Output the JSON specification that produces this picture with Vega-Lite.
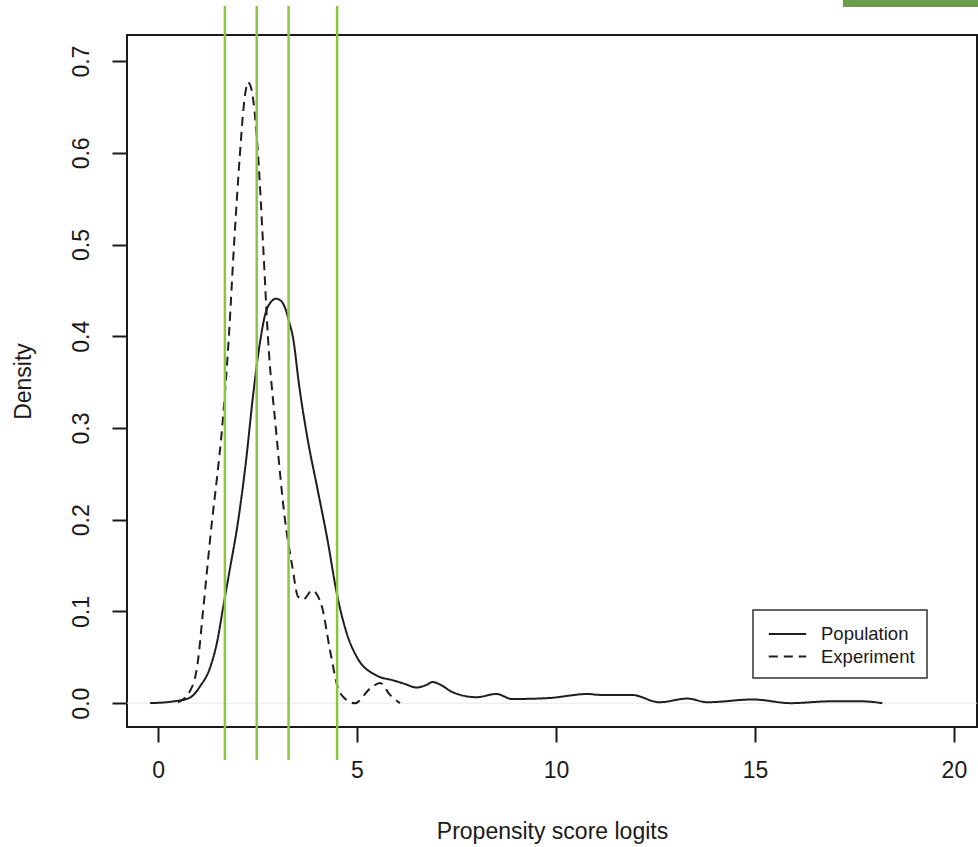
{
  "$schema": "https://vega.github.io/schema/vega-lite/v6.json",
  "width": 850,
  "height": 692,
  "autosize": "none",
  "padding": {"left": 127, "top": 35, "right": 1, "bottom": 120},
  "background": "white",
  "config": {
    "font": "Liberation Sans",
    "view": {"stroke": "#1a1a1a", "strokeWidth": 2},
    "axis": {"grid": false, "labelFont": "Liberation Sans", "titleFont": "Liberation Sans", "labelColor": "#1a1a1a", "titleColor": "#1a1a1a", "titleFontWeight": "normal", "labelFontSize": 23, "titleFontSize": 23, "tickColor": "#1a1a1a", "tickWidth": 2, "tickSize": 15, "domain": false}
  },
  "datasets": {
    "curves": [
      {"series": "Population", "x": -0.2, "y": 0.0},
      {"series": "Population", "x": 0.4, "y": 0.002},
      {"series": "Population", "x": 0.8, "y": 0.006},
      {"series": "Population", "x": 1.05, "y": 0.018},
      {"series": "Population", "x": 1.31, "y": 0.039},
      {"series": "Population", "x": 1.5, "y": 0.07},
      {"series": "Population", "x": 1.63, "y": 0.103},
      {"series": "Population", "x": 1.8, "y": 0.145},
      {"series": "Population", "x": 2.0, "y": 0.195},
      {"series": "Population", "x": 2.2, "y": 0.26},
      {"series": "Population", "x": 2.4, "y": 0.34},
      {"series": "Population", "x": 2.55, "y": 0.39},
      {"series": "Population", "x": 2.7, "y": 0.425},
      {"series": "Population", "x": 2.85, "y": 0.438},
      {"series": "Population", "x": 2.96, "y": 0.441},
      {"series": "Population", "x": 3.08, "y": 0.439},
      {"series": "Population", "x": 3.2, "y": 0.43},
      {"series": "Population", "x": 3.3, "y": 0.415},
      {"series": "Population", "x": 3.39, "y": 0.399},
      {"series": "Population", "x": 3.55, "y": 0.345},
      {"series": "Population", "x": 3.75, "y": 0.29},
      {"series": "Population", "x": 4.0, "y": 0.235},
      {"series": "Population", "x": 4.25, "y": 0.18},
      {"series": "Population", "x": 4.5, "y": 0.118},
      {"series": "Population", "x": 4.75, "y": 0.075},
      {"series": "Population", "x": 5.0, "y": 0.05},
      {"series": "Population", "x": 5.5, "y": 0.03},
      {"series": "Population", "x": 5.9, "y": 0.025},
      {"series": "Population", "x": 6.2, "y": 0.021},
      {"series": "Population", "x": 6.5, "y": 0.017},
      {"series": "Population", "x": 6.75, "y": 0.02},
      {"series": "Population", "x": 6.9, "y": 0.023},
      {"series": "Population", "x": 7.1, "y": 0.02},
      {"series": "Population", "x": 7.4, "y": 0.012},
      {"series": "Population", "x": 8.0, "y": 0.0065},
      {"series": "Population", "x": 8.5, "y": 0.01},
      {"series": "Population", "x": 8.9, "y": 0.0045},
      {"series": "Population", "x": 9.8, "y": 0.0055},
      {"series": "Population", "x": 10.8, "y": 0.01},
      {"series": "Population", "x": 11.1, "y": 0.009},
      {"series": "Population", "x": 11.9, "y": 0.009},
      {"series": "Population", "x": 12.6, "y": 0.001},
      {"series": "Population", "x": 13.3, "y": 0.005},
      {"series": "Population", "x": 13.8, "y": 0.001},
      {"series": "Population", "x": 14.95, "y": 0.004},
      {"series": "Population", "x": 15.9, "y": 0.0},
      {"series": "Population", "x": 16.9, "y": 0.002},
      {"series": "Population", "x": 17.7, "y": 0.002},
      {"series": "Population", "x": 18.2, "y": 0.0},
      {"series": "Experiment", "x": 0.5, "y": 0.001},
      {"series": "Experiment", "x": 0.8, "y": 0.013},
      {"series": "Experiment", "x": 1.0, "y": 0.045},
      {"series": "Experiment", "x": 1.13, "y": 0.1},
      {"series": "Experiment", "x": 1.36, "y": 0.2},
      {"series": "Experiment", "x": 1.48, "y": 0.245},
      {"series": "Experiment", "x": 1.61, "y": 0.3},
      {"series": "Experiment", "x": 1.78, "y": 0.4},
      {"series": "Experiment", "x": 1.91, "y": 0.5},
      {"series": "Experiment", "x": 2.06, "y": 0.6},
      {"series": "Experiment", "x": 2.14, "y": 0.645},
      {"series": "Experiment", "x": 2.2, "y": 0.667},
      {"series": "Experiment", "x": 2.26, "y": 0.677},
      {"series": "Experiment", "x": 2.33, "y": 0.672},
      {"series": "Experiment", "x": 2.4, "y": 0.655},
      {"series": "Experiment", "x": 2.51, "y": 0.6},
      {"series": "Experiment", "x": 2.64, "y": 0.5},
      {"series": "Experiment", "x": 2.76, "y": 0.4},
      {"series": "Experiment", "x": 2.96, "y": 0.3},
      {"series": "Experiment", "x": 3.19, "y": 0.2},
      {"series": "Experiment", "x": 3.37, "y": 0.15},
      {"series": "Experiment", "x": 3.52, "y": 0.116},
      {"series": "Experiment", "x": 3.65, "y": 0.113},
      {"series": "Experiment", "x": 3.87, "y": 0.123},
      {"series": "Experiment", "x": 4.0, "y": 0.118},
      {"series": "Experiment", "x": 4.12, "y": 0.105},
      {"series": "Experiment", "x": 4.32, "y": 0.058},
      {"series": "Experiment", "x": 4.52, "y": 0.017},
      {"series": "Experiment", "x": 4.65, "y": 0.007},
      {"series": "Experiment", "x": 4.95, "y": 0.0},
      {"series": "Experiment", "x": 5.33, "y": 0.016},
      {"series": "Experiment", "x": 5.58, "y": 0.022},
      {"series": "Experiment", "x": 5.83, "y": 0.009},
      {"series": "Experiment", "x": 6.08, "y": 0.0}
    ],
    "cuts": [{"x": 1.68}, {"x": 2.48}, {"x": 3.28}, {"x": 4.5}]
  },
  "layer": [
    {
      "data": {"values": [{"y": 0}]},
      "mark": {"type": "rule", "color": "#e8e8e8", "strokeWidth": 1},
      "encoding": {"y": {"field": "y", "type": "quantitative", "scale": {"domain": [-0.026, 0.7285], "nice": false, "zero": false}}}
    },
    {
      "data": {"name": "curves"},
      "mark": {"type": "line", "interpolate": "monotone", "color": "#1e1e1e", "strokeWidth": 2},
      "encoding": {
        "x": {"field": "x", "type": "quantitative", "scale": {"domain": [-0.78, 20.58], "nice": false, "zero": false},
          "axis": {"values": [0, 5, 10, 15, 20], "labelPadding": 17, "title": "Propensity score logits", "titlePadding": 38}},
        "y": {"field": "y", "type": "quantitative", "scale": {"domain": [-0.026, 0.7285], "nice": false, "zero": false},
          "axis": {"values": [0, 0.1, 0.2, 0.3, 0.4, 0.5, 0.6, 0.7], "format": ".1f", "labelAngle": -90, "labelAlign": "center", "labelBaseline": "bottom", "labelPadding": 19, "title": "Density", "titlePadding": 35}},
        "strokeDash": {"field": "series", "type": "nominal",
          "scale": {"domain": ["Population", "Experiment"], "range": [[1, 0], [9, 6]]},
          "legend": {"title": null, "orient": "none", "legendX": 626, "legendY": 575, "padding": 12, "strokeColor": "#333333", "fillColor": "white", "cornerRadius": 0,
            "symbolType": "M-1.7,0H1.7", "symbolSize": 484, "symbolStrokeWidth": 2, "symbolStrokeColor": "#1e1e1e", "symbolOffset": 10.5, "labelOffset": 21.5, "labelFontSize": 18.5, "labelFont": "Liberation Sans", "labelColor": "#1a1a1a", "rowPadding": 0.5,
            "encode": {"legend": {"update": {"strokeWidth": {"value": 1.5}}}}}}
      }
    },
    {
      "data": {"name": "cuts"},
      "mark": {"type": "rule", "color": "#8cc63f", "strokeWidth": 2.5, "clip": false},
      "encoding": {
        "x": {"field": "x", "type": "quantitative"},
        "y": {"datum": 0.76},
        "y2": {"datum": -0.062}
      }
    },
    {
      "data": {"values": [{}]},
      "mark": {"type": "rect", "color": "#6a9c4a", "clip": false},
      "encoding": {
        "x": {"datum": 17.21},
        "x2": {"datum": 20.62},
        "y": {"datum": 0.7666},
        "y2": {"datum": 0.7589}
      }
    }
  ]
}
